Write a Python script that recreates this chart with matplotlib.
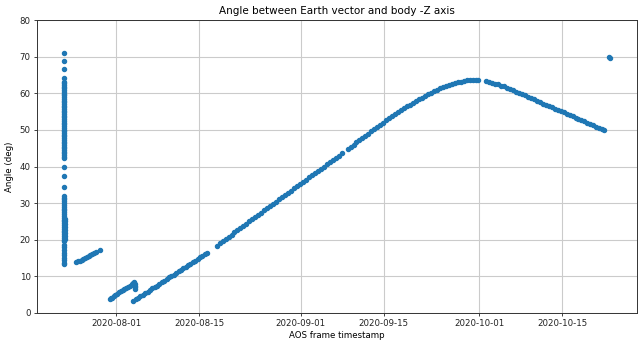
import numpy as np
import pandas as pd
import matplotlib
matplotlib.use("Agg")
import matplotlib.pyplot as plt
import matplotlib.dates as mdates

plt.rcParams['font.family'] = ['DejaVu Sans']
plt.rcParams['font.size'] = 6.2

BASE_DATE = "2020-08-01"

# --- cluster of points at one pass (day offset -8.7) ---
cluster_day = -8.7
cluster_angles = [71.0, 68.8, 66.6, 64.2, 63.0, 62.7, 62.2, 61.8, 61.3, 60.8, 60.4, 59.9,
                  59.4, 59.0, 58.5, 58.0, 57.6, 57.1, 56.6, 56.2, 55.7, 55.2, 54.8, 54.3,
                  53.8, 53.4, 52.9, 52.4, 52.0, 51.5, 51.0, 50.6, 50.1, 49.6, 49.2, 48.7,
                  48.2, 47.8, 47.3, 46.8, 46.4, 45.9, 45.4, 45.0, 44.5, 44.0, 43.6, 43.1,
                  42.6, 42.3, 40.0, 37.3, 34.5, 32.0, 31.5, 31.0, 30.5, 30.0, 29.5, 29.0,
                  28.5, 28.0, 27.5, 27.0, 26.5, 26.0, 25.5, 25.0, 24.5, 24.0, 23.5, 23.0,
                  22.5, 22.0, 21.5, 21.0, 20.5, 20.0, 19.6, 18.6, 17.9, 17.2, 16.5, 15.8,
                  15.1, 14.4, 13.7, 13.3]
cluster2_day = -8.55
cluster2_angles = [25.8, 25.0, 24.2, 23.4, 22.6, 21.8, 21.0, 20.2]

# --- segment 2 ---
seg2_days = [-6.7, -6.4, -6.1, -5.8, -5.5, -5.2, -4.9, -4.6, -4.3, -4.0, -3.7, -3.4, -2.7]
seg2_angles = [14.0, 14.1, 14.3, 14.5, 14.8, 15.0, 15.3, 15.6, 15.8, 16.1, 16.4, 16.7, 17.3]

# --- segment 3 ---
seg3_days = [-1.0, -0.9, -0.7, -0.4, -0.1, 0.2, 0.5, 0.8, 1.1, 1.4, 1.7, 2.0, 2.3, 2.6,
             2.9, 3.05, 3.1, 3.1, 3.1, 3.1]
seg3_angles = [3.9, 4.1, 4.2, 4.6, 4.9, 5.2, 5.6, 5.9, 6.2, 6.6, 6.9, 7.2, 7.5, 7.9,
               8.2, 8.4, 8.0, 7.5, 7.0, 6.6]

# --- segment 4 ---
seg4_days = [2.9, 3.3, 3.7, 4.1, 4.5, 4.9, 5.3, 5.7, 6.1, 6.5, 6.9, 7.3, 7.7, 8.1, 8.5,
             8.9, 9.3, 9.7, 10.1, 10.5, 10.9, 11.3, 11.7, 12.1, 12.5, 12.9, 13.3, 13.7,
             14.1, 14.5, 14.9, 15.2]
seg4_angles = [3.3, 3.7, 4.1, 4.6, 5.0, 5.4, 5.8, 6.3, 6.7, 7.1, 7.5, 8.0, 8.4, 8.8, 9.2,
               9.7, 10.1, 10.5, 10.9, 11.4, 11.8, 12.2, 12.6, 13.1, 13.5, 13.9, 14.3, 14.8,
               15.2, 15.6, 16.0, 16.3]

# --- main arc ---
arc_days = [16.9, 17.4, 17.9, 18.4, 18.9, 19.4, 19.9, 20.4, 20.9, 21.4, 21.9, 22.4, 22.9,
            23.4, 23.9, 24.4, 24.9, 25.4, 25.9, 26.4, 26.9, 27.4, 27.9, 28.4, 28.9, 29.4,
            29.9, 30.4, 30.9, 31.4, 31.9, 32.4, 32.9, 33.4, 33.9, 34.4, 34.9, 35.4, 35.9,
            36.4, 36.9, 37.4, 37.9, 38.9, 39.4, 39.9, 40.4, 40.9, 41.4, 41.9, 42.4, 42.9,
            43.4, 43.9, 44.4, 44.9, 45.4, 45.9, 46.4, 46.9, 47.4, 47.9, 48.4, 48.9, 49.4,
            49.9, 50.4, 50.9, 51.4, 51.9, 52.4, 52.9, 53.4, 53.9, 54.4, 54.9, 55.4, 55.9,
            56.4, 56.9, 57.4, 57.9, 58.4, 58.9, 59.4, 59.9, 60.4, 60.9, 62.2, 62.7, 63.2,
            63.7, 64.2, 64.7, 65.2, 65.7, 66.2, 66.7, 67.2, 67.7, 68.2, 68.7, 69.2, 69.7,
            70.2, 70.7, 71.2, 71.7, 72.2, 72.7, 73.2, 73.7, 74.2, 74.7, 75.2, 75.7, 76.2,
            76.7, 77.2, 77.7, 78.2, 78.7, 79.2, 79.7, 80.2, 80.7, 81.2, 81.7, 82.0]
arc_angles = [18.4, 19.0, 19.6, 20.2, 20.8, 21.4, 22.0, 22.6, 23.2, 23.8, 24.4, 25.0, 25.6,
              26.2, 26.8, 27.4, 28.0, 28.6, 29.2, 29.8, 30.4, 31.0, 31.6, 32.2, 32.8, 33.4,
              34.0, 34.6, 35.2, 35.8, 36.4, 37.0, 37.6, 38.2, 38.8, 39.4, 40.0, 40.6, 41.2,
              41.8, 42.4, 43.0, 43.6, 44.8, 45.4, 46.0, 46.6, 47.2, 47.8, 48.4, 49.0, 49.6,
              50.2, 50.8, 51.4, 52.0, 52.6, 53.2, 53.8, 54.3, 54.9, 55.4, 55.9, 56.4, 56.9,
              57.4, 57.9, 58.4, 58.8, 59.3, 59.7, 60.2, 60.6, 61.0, 61.4, 61.7, 62.0, 62.3,
              62.6, 62.8, 63.0, 63.2, 63.4, 63.5, 63.6, 63.7, 63.7, 63.6, 63.3, 63.1, 62.9,
              62.6, 62.4, 62.1, 61.9, 61.5, 61.1, 60.8, 60.4, 60.1, 59.7, 59.4, 59.0, 58.7,
              58.3, 57.9, 57.6, 57.2, 56.9, 56.5, 56.2, 55.8, 55.5, 55.1, 54.8, 54.4, 54.1,
              53.7, 53.3, 53.0, 52.6, 52.3, 51.9, 51.6, 51.2, 50.9, 50.5, 50.2, 50.0]

# --- isolated late point ---
late_days = [82.85, 82.95]
late_angles = [69.8, 69.6]

all_days = (
    [cluster_day] * len(cluster_angles) + [cluster2_day] * len(cluster2_angles)
    + seg2_days + seg3_days + seg4_days + arc_days + late_days
)
all_angles = cluster_angles + cluster2_angles + seg2_angles + seg3_angles + seg4_angles + arc_angles + late_angles

times = pd.Timestamp(BASE_DATE) + pd.to_timedelta(np.array(all_days), unit="D")

fig = plt.figure(figsize=(6.44, 3.48), dpi=100)
ax = fig.add_axes([37 / 644, 35 / 348, 600 / 644, 293 / 348])
ax.plot(times, all_angles, '.', color='#1f77b4', markersize=5.8)
ax.set_ylim(0, 80)
ax.set_yticks(np.arange(0, 81, 10))
ax.xaxis.set_major_locator(mdates.DayLocator(bymonthday=[1, 15]))
ax.xaxis.set_major_formatter(mdates.DateFormatter('%Y-%m-%d'))
ax.grid(True, color='#cbcbcb', linewidth=0.8)
ax.set_axisbelow(True)
for s in ax.spines.values():
    s.set_linewidth(0.7)
    s.set_color('#333333')
ax.tick_params(width=0.6, length=2.5, pad=2, colors='#222222')
ax.set_title("Angle between Earth vector and body -Z axis", fontsize=7.5, pad=4)
ax.set_xlabel("AOS frame timestamp", labelpad=2)
ax.set_ylabel("Angle (deg)", labelpad=4)
fig.savefig("out.png", dpi=100)
